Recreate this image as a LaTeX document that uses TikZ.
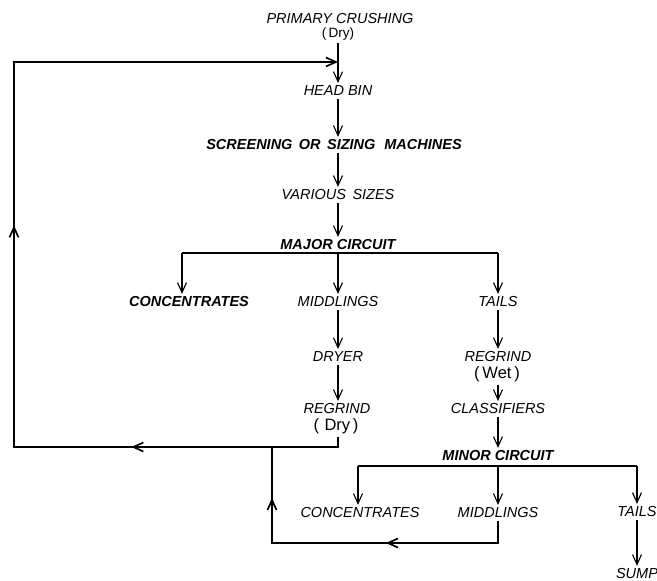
\documentclass[tikz,border=0pt]{standalone}
\usepackage{fontspec}
\setmainfont{Liberation Sans}
\usetikzlibrary{arrows.meta,decorations.markings}
\newcommand\lblfont{\fontsize{14.5}{16}\selectfont\itshape}
\newcommand\uprfont{\fontsize{13.5}{15}\selectfont\upshape}
\newcommand\bigupfont{\fontsize{16.5}{18}\selectfont\upshape}
\tikzset{
  lab/.style={inner sep=0pt, outer sep=3pt, font=\lblfont},
  blab/.style={lab, font=\lblfont\bfseries},
  ulab/.style={lab, font=\uprfont},
  bulab/.style={lab, font=\bigupfont},
  barb/.tip={Straight Barb[length=10pt,width=9pt]},
  arr/.style={line width=1.1pt, -{barb}},
  ln/.style={line width=1.7pt, line join=miter},
}
\begin{document}
\begin{tikzpicture}[x=1pt,y=-1pt]
\useasboundingbox (0,0) rectangle (657,581);
% nodes
\node[lab]   (pc)   at (340,19)  {PRIMARY CRUSHING};
\node[ulab]  (pcd)  at (338,34)  {(\,Dry)};
\node[lab]   (hb)   at (338,91)  {HEAD BIN};
\node[blab]  (scr)  at (334,145) {SCREENING\, OR\, SIZING\,\, MACHINES};
\node[lab]   (vs)   at (338,195) {VARIOUS\, SIZES};
\node[blab]  (maj)  at (338,245) {MAJOR CIRCUIT};
\node[blab]  (con1) at (189,302) {CONCENTRATES};
\node[lab]   (mid1) at (338,302) {MIDDLINGS};
\node[lab]   (tai1) at (498,302) {TAILS};
\node[lab]   (dry)  at (338,357) {DRYER};
\node[lab]   (rgw)  at (498,357) {REGRIND};
\node[bulab] (wet)  at (497,374) {(\,Wet\,)};
\node[lab]   (rgd)  at (337,409) {REGRIND};
\node[bulab] (dd)   at (336,426) {(\,\,Dry\,)};
\node[lab]   (cls)  at (498,409) {CLASSIFIERS};
\node[blab]  (mino) at (498,456) {MINOR CIRCUIT};
\node[lab]   (con2) at (360,513) {CONCENTRATES};
\node[lab]   (mid2) at (498,513) {MIDDLINGS};
\node[lab]   (tai2) at (637,512) {TAILS};
\node[lab]   (sump) at (637,574) {SUMP};
% coordinates
\coordinate (j1) at (338,62);
\coordinate (b1l) at (182,253);
\coordinate (b1m) at (338,253);
\coordinate (b1r) at (498,253);
\coordinate (b2l) at (358,466);
\coordinate (b2m) at (498,466);
\coordinate (b2r) at (637,466);
\coordinate (rl) at (338,447);
\coordinate (ll) at (14,447);
\coordinate (lt) at (14,62);
\coordinate (jn) at (272,447);
\coordinate (mb) at (498,543);
\coordinate (lb) at (272,543);
% main chain
\draw[arr] (pcd.south -| j1) -- (j1 |- hb.north);
\draw[arr] (j1 |- hb.south) -- (j1 |- scr.north);
\draw[arr] (j1 |- scr.south) -- (j1 |- vs.north);
\draw[arr] (j1 |- vs.south) -- (j1 |- maj.north);
\draw[ln] (b1l) -- (b1r);
\draw[arr] (b1l) -- (b1l |- con1.north);
\draw[arr] (b1m) -- (b1m |- mid1.north);
\draw[arr] (b1r) -- (tai1.north);
\draw[arr] (b1m |- mid1.south) -- (b1m |- dry.north);
\draw[arr] (b1m |- dry.south) -- (b1m |- rgd.north);
\draw[arr] (tai1.south) -- (rgw.north);
\draw[arr] (b1r |- wet.south) -- (b1r |- cls.north);
\draw[arr] (cls.south) -- (mino.north);
\draw[ln] (b2l) -- (b2r);
\draw[arr] (b2l) -- (b2l |- con2.north);
\draw[arr] (b2m) -- (mid2.north);
\draw[arr] (b2r) -- (b2r |- tai2.north);
\draw[arr] (b2r |- tai2.south) -- (b2r |- sump.north);
% return loops
\draw[ln, -{barb}, postaction={decorate}, decoration={markings,
   mark=at position 217pt with {\arrow{barb}},
   mark=at position 556pt with {\arrow{barb}}}]
   (dd.south -| rl) -- (rl) -- (ll) -- (lt) -- (j1);
\draw[ln, postaction={decorate}, decoration={markings,
   mark=at position 134pt with {\arrow{barb}},
   mark=at position 293pt with {\arrow{barb}}}]
   (mid2.south) -- (mb) -- (lb) -- (jn);
\end{tikzpicture}
\end{document}
